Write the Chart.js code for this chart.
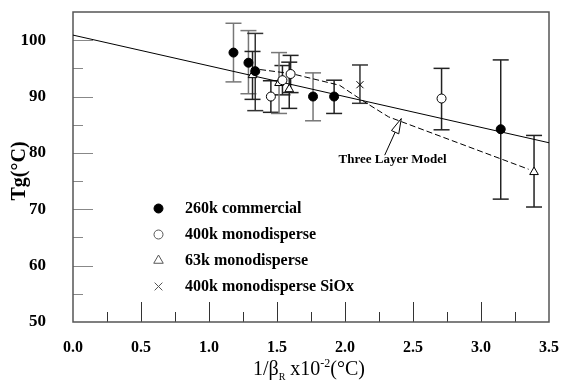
<!DOCTYPE html>
<html>
<head>
<meta charset="utf-8">
<script src="https://cdn.jsdelivr.net/npm/chart.js@4/dist/chart.umd.min.js"></script>
<style>
html, body { margin: 0; padding: 0; background: #fff; }
</style>
</head>
<body>
<canvas id="chart" width="566" height="384"></canvas>
<script>
// series: x = 1/beta_R x10^-2, y = Tg (deg C)
var commercialX = [1.18, 1.29, 1.34, 1.765, 1.92, 3.145];
var commercialY = [97.8, 96.0, 94.5, 90.0, 90.0, 84.2];
var commercialLow = [92.6, 90.5, 87.5, 85.7, 87.0, 71.8];
var commercialHigh = [103.0, 101.7, 101.2, 94.2, 92.9, 96.5];

var mono400X = [1.455, 1.54, 1.60, 2.71];
var mono400Y = [90.0, 92.9, 94.0, 89.65];
var mono400Low = [87.2, 90.3, 90.7, 84.1];
var mono400High = [92.8, 95.5, 97.3, 95.0];

var mono63X = [1.32, 1.515, 1.59, 3.39];
var mono63Y = [93.8, 92.4, 91.3, 76.6];
var mono63Low = [89.5, 87.0, 87.9, 70.4];
var mono63High = [98.0, 97.8, 96.1, 83.1];

var sioxX = [2.11];
var sioxY = [92.1];
var sioxLow = [88.8];
var sioxHigh = [95.6];

// straight fit line and the three layer model curve
var fitX = [0, 3.5];
var fitY = [100.9, 81.8];
var modelX = [1.31, 1.61, 1.96, 2.16, 2.32, 3.35];
var modelY = [95.0, 94.05, 92.0, 88.8, 86.4, 77.1];

var seriesNames = ['260k commercial', '400k monodisperse', '63k monodisperse', '400k monodisperse SiOx'];
var xTicks = [0, 0.5, 1.0, 1.5, 2.0, 2.5, 3.0, 3.5];
var yTicks = [50, 60, 70, 80, 90, 100];

// annotation, in data units
var modelLabel = { text: 'Three Layer Model', x: 2.35, y: 78.8 };
var arrowTail = { x: 2.292, y: 79.6 };
var arrowTip = { x: 2.414, y: 86.1 };

const serif = '"Liberation Serif", "Times New Roman", serif';

function toPoints(xs, ys) {
    return xs.map((v, i) => ({ x: v, y: ys[i] }));
}

function drawLine(ctx, x1, y1, x2, y2) {
    ctx.beginPath();
    ctx.moveTo(x1, y1);
    ctx.lineTo(x2, y2);
    ctx.stroke();
}

const decorPlugin = {
    id: 'decor',
    beforeDatasetsDraw(chart) {
        const { ctx, chartArea: a, scales: { x, y } } = chart;
        ctx.save();

        // inward ticks on the left axis
        ctx.lineWidth = 1;
        ctx.strokeStyle = '#888';
        for (let v = 55; v < 105; v += 5) {
            const py = Math.round(y.getPixelForValue(v)) + 0.5;
            drawLine(ctx, a.left, py, a.left + (v % 10 === 0 ? 20 : 10), py);
        }
        // inward ticks on the bottom axis
        ctx.strokeStyle = '#333';
        for (let v = 0.25; v < 3.5; v += 0.25) {
            const px = Math.round(x.getPixelForValue(v)) + 0.5;
            const major = Math.abs(v * 2 - Math.round(v * 2)) < 1e-6;
            drawLine(ctx, px, a.bottom, px, a.bottom - (major ? 20 : 10));
        }

        // frame
        ctx.strokeStyle = '#555';
        ctx.lineWidth = 1.5;
        ctx.strokeRect(a.left, a.top, a.right - a.left, a.bottom - a.top);

        // error bars
        chart.data.datasets.forEach(ds => {
            if (!ds.yLow) return;
            ds.data.forEach((p, j) => {
                const px = x.getPixelForValue(p.x);
                const top = y.getPixelForValue(ds.yHigh[j]);
                const bot = y.getPixelForValue(ds.yLow[j]);
                ctx.strokeStyle = ds.errColor[j];
                ctx.lineWidth = 1.5;
                drawLine(ctx, px, top, px, bot);
                drawLine(ctx, px - 8, top, px + 8, top);
                drawLine(ctx, px - 8, bot, px + 8, bot);
            });
        });
        ctx.restore();
    },
    afterDraw(chart) {
        const { ctx, scales: { x, y } } = chart;
        ctx.save();
        ctx.fillStyle = '#000';

        // y axis title
        ctx.save();
        ctx.translate(20, 171);
        ctx.rotate(-Math.PI / 2);
        ctx.font = 'bold 20px ' + serif;
        ctx.textAlign = 'center';
        ctx.textBaseline = 'middle';
        ctx.fillText('Tg(°C)', 0, 0);
        ctx.restore();

        // x axis title with sub and superscript
        const parts = [
            { t: '1/β', size: 20, dy: 0 },
            { t: 'R', size: 10, dy: 5 },
            { t: ' x10', size: 20, dy: 0 },
            { t: '-2', size: 12, dy: -8 },
            { t: '(°C)', size: 20, dy: 0 }
        ];
        let total = 0;
        parts.forEach(p => {
            ctx.font = p.size + 'px ' + serif;
            p.w = ctx.measureText(p.t).width;
            total += p.w;
        });
        let cx = 309 - total / 2;
        ctx.textAlign = 'left';
        ctx.textBaseline = 'alphabetic';
        parts.forEach(p => {
            ctx.font = p.size + 'px ' + serif;
            ctx.fillText(p.t, cx, 375 + p.dy);
            cx += p.w;
        });

        // legend
        const legendStyles = [
            { pointStyle: 'circle', radius: 4.5, fill: '#000', stroke: '#000' },
            { pointStyle: 'circle', radius: 4.5, fill: '#fff', stroke: '#555' },
            { pointStyle: 'triangle', radius: 5.5, fill: '#fff', stroke: '#555' },
            { pointStyle: 'crossRot', radius: 5.5, fill: '#fff', stroke: '#555' }
        ];
        ctx.font = 'bold 16px ' + serif;
        ctx.textBaseline = 'middle';
        seriesNames.forEach((name, i) => {
            const ly = 208.5 + i * 26;
            const s = legendStyles[i];
            ctx.fillStyle = s.fill;
            ctx.strokeStyle = s.stroke;
            Chart.helpers.drawPoint(ctx, { pointStyle: s.pointStyle, radius: s.radius, borderWidth: 1 }, 158.5, ly);
            ctx.fillStyle = '#000';
            ctx.fillText(name, 185, ly);
        });

        // "Three Layer Model" label and hollow arrow
        const tx = x.getPixelForValue(arrowTip.x), ty = y.getPixelForValue(arrowTip.y);
        const sx = x.getPixelForValue(arrowTail.x), sy = y.getPixelForValue(arrowTail.y);
        const len = Math.hypot(tx - sx, ty - sy);
        const dx = (tx - sx) / len, dy = (ty - sy) / len;
        const bx = tx - dx * 15, by = ty - dy * 15;
        ctx.strokeStyle = '#000';
        ctx.lineWidth = 1;
        drawLine(ctx, sx, sy, bx, by);
        ctx.beginPath();
        ctx.moveTo(tx, ty);
        ctx.lineTo(bx - dy * 4, by + dx * 4);
        ctx.lineTo(bx + dy * 4, by - dx * 4);
        ctx.closePath();
        ctx.fillStyle = '#fff';
        ctx.fill();
        ctx.stroke();

        ctx.fillStyle = '#000';
        ctx.font = 'bold 13px ' + serif;
        ctx.textAlign = 'center';
        ctx.textBaseline = 'middle';
        ctx.fillText(modelLabel.text, x.getPixelForValue(modelLabel.x), y.getPixelForValue(modelLabel.y));
        ctx.restore();
    }
};

const config = {
    type: 'scatter',
    data: {
        datasets: [
            {
                label: seriesNames[0],
                data: toPoints(commercialX, commercialY),
                yLow: commercialLow,
                yHigh: commercialHigh,
                errColor: ['#777', '#777', '#333', '#777', '#222', '#222'],
                pointStyle: 'circle',
                pointRadius: 4.5,
                backgroundColor: '#000',
                borderColor: '#000'
            },
            {
                label: seriesNames[1],
                data: toPoints(mono400X, mono400Y),
                yLow: mono400Low,
                yHigh: mono400High,
                errColor: ['#222', '#222', '#222', '#222'],
                pointStyle: 'circle',
                pointRadius: 4.5,
                borderWidth: 1,
                backgroundColor: '#fff',
                borderColor: '#000'
            },
            {
                label: seriesNames[2],
                data: toPoints(mono63X, mono63Y),
                yLow: mono63Low,
                yHigh: mono63High,
                errColor: ['#222', '#777', '#222', '#222'],
                pointStyle: 'triangle',
                pointRadius: 5,
                borderWidth: 1,
                backgroundColor: '#fff',
                borderColor: '#000'
            },
            {
                label: seriesNames[3],
                data: toPoints(sioxX, sioxY),
                yLow: sioxLow,
                yHigh: sioxHigh,
                errColor: ['#333'],
                pointStyle: 'crossRot',
                pointRadius: 5,
                borderWidth: 1,
                borderColor: '#000'
            },
            {
                type: 'line',
                label: 'model',
                data: toPoints(modelX, modelY),
                borderColor: '#000',
                borderWidth: 1,
                borderDash: [6, 3],
                pointRadius: 0,
                fill: false
            },
            {
                type: 'line',
                label: 'fit',
                data: toPoints(fitX, fitY),
                borderColor: '#000',
                borderWidth: 1,
                pointRadius: 0,
                fill: false
            }
        ]
    },
    options: {
        responsive: false,
        animation: false,
        events: [],
        layout: { padding: { left: 0, right: 17, top: 12, bottom: 0 } },
        plugins: {
            legend: { display: false },
            tooltip: { enabled: false }
        },
        scales: {
            x: {
                type: 'linear',
                min: 0,
                max: 3.5,
                grid: { display: false },
                border: { display: false },
                afterBuildTicks: s => { s.ticks = xTicks.map(v => ({ value: v })); },
                afterFit: s => {
                    s.height = 62;
                    s.paddingLeft = 0;
                    s.paddingRight = 0;
                },
                ticks: {
                    padding: 8,
                    color: '#000',
                    font: { family: serif, size: 16, weight: 'bold' },
                    callback: v => v.toFixed(1)
                }
            },
            y: {
                type: 'linear',
                min: 50,
                max: 105,
                grid: { display: false },
                border: { display: false },
                afterBuildTicks: s => { s.ticks = yTicks.map(v => ({ value: v })); },
                afterFit: s => {
                    s.width = 73;
                    s.paddingTop = 0;
                    s.paddingBottom = 0;
                },
                ticks: {
                    padding: 19,
                    color: '#000',
                    font: { family: serif, size: 17, weight: 'bold' }
                }
            }
        }
    },
    plugins: [decorPlugin]
};

new Chart(document.getElementById('chart').getContext('2d'), config);
</script>
</body>
</html>
